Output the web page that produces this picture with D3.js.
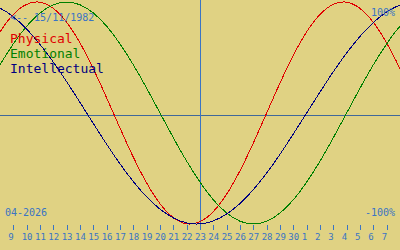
<!DOCTYPE html>
<html>
<head>
<meta charset="utf-8">
<script src="https://cdn.jsdelivr.net/npm/d3@7"></script>
<style>
  html, body { margin: 0; padding: 0; background: #e0d283; }
  svg { display: block; }
</style>
</head>
<body>
<svg id="chart"></svg>
<script>
// days shown, Apr 7 .. May 9 2026 (first and last fall just outside the plot)
const dayNums = [7, 8, 9, 10, 11, 12, 13, 14, 15, 16, 17, 18, 19, 20, 21, 22, 23, 24, 25, 26, 27, 28, 29, 30,
  1, 2, 3, 4, 5, 6, 7, 8, 9];

const physical = [0.520, 0.731, 0.888, 0.979, 0.998, 0.942, 0.817, 0.631, 0.398, 0.136, -0.136, -0.398,
  -0.631, -0.817, -0.942, -0.998, -0.979, -0.888, -0.731, -0.520, -0.270, 0, 0.270, 0.520,
  0.731, 0.888, 0.979, 0.998, 0.942, 0.817, 0.631, 0.398, 0.136];

const emotional = [0.223, 0.434, 0.623, 0.782, 0.901, 0.975, 1, 0.975, 0.901, 0.782, 0.623, 0.434,
  0.223, 0, -0.223, -0.434, -0.623, -0.782, -0.901, -0.975, -1, -0.975, -0.901, -0.782,
  -0.623, -0.434, -0.223, 0, 0.223, 0.434, 0.623, 0.782, 0.901];

const intellectual = [0.990, 0.945, 0.866, 0.756, 0.618, 0.458, 0.282, 0.095, -0.095, -0.282, -0.458, -0.618,
  -0.756, -0.866, -0.945, -0.990, -0.999, -0.972, -0.910, -0.815, -0.690, -0.541, -0.372, -0.189,
  0, 0.189, 0.372, 0.541, 0.690, 0.815, 0.910, 0.972, 0.999];

const seriesNames = ['Physical', 'Emotional', 'Intellectual'];
const seriesColors = ['#e00000', '#008000', '#000080'];
const birthLabel = '<-- 15/11/1982';
const monthLabel = '04-2026';
const todayIndex = 16; // Apr 23

const width = 400;
const height = 250;
const blue = '#3a74c4';
const mono = '"DejaVu Sans Mono", monospace';

const svg = d3.select('#chart')
  .attr('width', width)
  .attr('height', height);

svg.append('rect')
  .attr('width', width)
  .attr('height', height)
  .attr('fill', '#e0d283');

// index 1 = Apr 8 at left edge, index 31 = May 8 at right edge
const xScale = d3.scaleLinear().domain([1, 31]).range([0, width]);
const yScale = d3.scaleLinear().domain([-1, 1]).range([224, 2]);

// zero line
svg.append('line')
  .attr('x1', 0).attr('x2', width)
  .attr('y1', 115.5).attr('y2', 115.5)
  .attr('stroke', '#40689a')
  .attr('stroke-width', 1)
  .attr('shape-rendering', 'crispEdges');

// today line
svg.append('line')
  .attr('x1', Math.round(xScale(todayIndex)) + 0.5)
  .attr('x2', Math.round(xScale(todayIndex)) + 0.5)
  .attr('y1', 0).attr('y2', 230)
  .attr('stroke', blue)
  .attr('stroke-width', 1)
  .attr('shape-rendering', 'crispEdges');

// day axis
const tickIdx = d3.range(2, 31);
const axis = svg.append('g');
axis.selectAll('line')
  .data(tickIdx)
  .enter()
  .append('line')
  .attr('x1', d => Math.round(xScale(d)) + 0.5)
  .attr('x2', d => Math.round(xScale(d)) + 0.5)
  .attr('y1', 225).attr('y2', 230)
  .attr('stroke', blue)
  .attr('shape-rendering', 'crispEdges');
axis.selectAll('text')
  .data(tickIdx)
  .enter()
  .append('text')
  .attr('x', d => xScale(d) - 5)
  .attr('y', 240)
  .attr('fill', blue)
  .style('font-family', mono)
  .style('font-size', '9px')
  .text(d => dayNums[d]);

// curves
const line = d3.line()
  .x((d, i) => xScale(i))
  .y(d => yScale(d))
  .curve(d3.curveNatural);

[physical, emotional, intellectual].forEach((values, k) => {
  svg.append('path')
    .attr('d', line(values))
    .attr('fill', 'none')
    .attr('stroke', seriesColors[k])
    .attr('stroke-width', 1)
    .attr('shape-rendering', 'crispEdges');
});

// labels
const addText = (txt, x, y, color, size, anchor) => {
  svg.append('text')
    .attr('x', x)
    .attr('y', y)
    .attr('fill', color)
    .attr('text-anchor', anchor || 'start')
    .style('font-family', mono)
    .style('font-size', size)
    .text(txt);
};

addText(birthLabel, 10, 21, blue, '10px');
addText('100%', 395, 16, blue, '10px', 'end');
addText('-100%', 395, 216, blue, '10px', 'end');
addText(monthLabel, 5, 216, blue, '10px');

seriesNames.forEach((name, k) => {
  addText(name, 10, 43 + k * 15, seriesColors[k], '13px');
});
</script>
</body>
</html>
